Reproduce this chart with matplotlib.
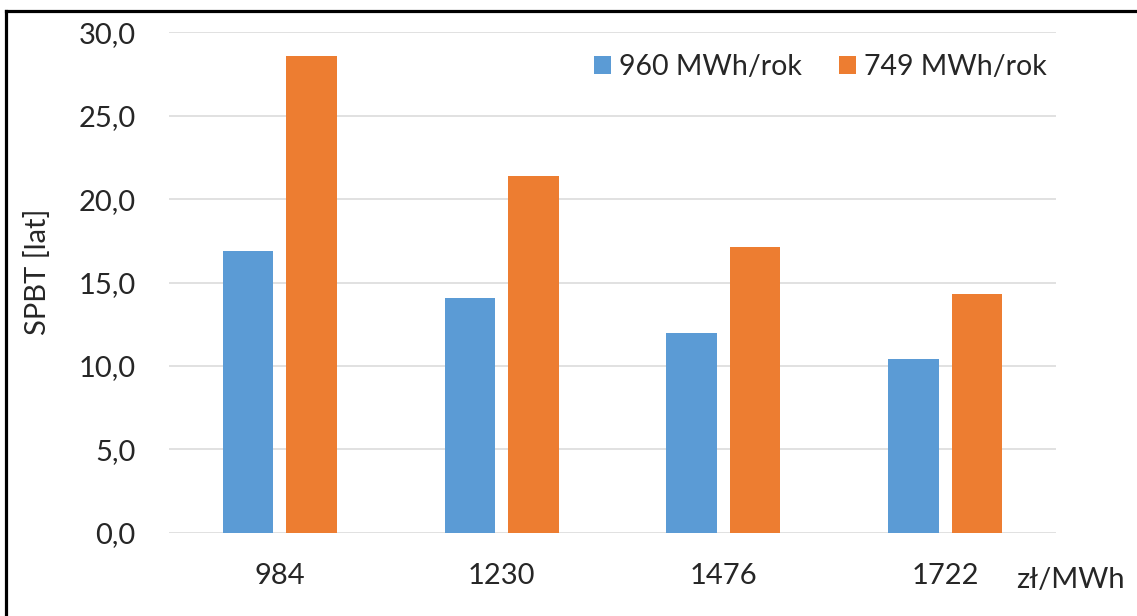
import matplotlib
matplotlib.use("Agg")
import matplotlib.pyplot as plt
from matplotlib.lines import Line2D
from matplotlib.ticker import FuncFormatter

# Energy price categories and simple payback time for two production levels
categories = ["984", "1230", "1476", "1722"]
series_names = ["960 MWh/rok", "749 MWh/rok"]
spbt_960 = [16.9, 14.1, 12.0, 10.4]
spbt_749 = [28.6, 21.4, 17.1, 14.3]
y_ticks = [0, 5, 10, 15, 20, 25, 30]

blue = "#5B9BD5"
orange = "#ED7D31"
grid_color = "#D9D9D9"
text_color = "#262626"

plt.rcParams["font.family"] = ["Lato", "DejaVu Sans"]

W, H = 1137, 616
fig = plt.figure(figsize=(W / 100, H / 100), dpi=100)
fig.patch.set_facecolor("white")

ax = fig.add_axes([169 / W, 1 - 532.7 / H, (1056 - 169) / W, (532.7 - 32.3) / H])

x = list(range(len(categories)))
offset = 0.143
width = 0.228
ax.bar([i - offset for i in x], spbt_960, width=width, color=blue, label=series_names[0], zorder=3)
ax.bar([i + offset for i in x], spbt_749, width=width, color=orange, label=series_names[1], zorder=3)

ax.set_xlim(-0.5, len(categories) - 0.5)
ax.set_ylim(0, 30)
ax.set_yticks(y_ticks)
ax.yaxis.set_major_formatter(FuncFormatter(lambda v, p: f"{v:.1f}".replace(".", ",")))
ax.set_xticks(x)
ax.set_xticklabels(categories)

for s in ax.spines.values():
    s.set_visible(False)
ax.grid(axis="y", color=grid_color, linewidth=1.1, zorder=0)
ax.set_axisbelow(True)
ax.tick_params(axis="both", length=0, labelsize=21, colors=text_color)
ax.tick_params(axis="y", pad=24)
ax.tick_params(axis="x", pad=22)

fig.text(37.5 / W, 1 - 272 / H, "SPBT [lat]", rotation=90, ha="center", va="center",
         fontsize=21, color=text_color)
fig.text(1016 / W, 1 - 588.5 / H, "zł/MWh", ha="left", va="baseline",
         fontsize=21, color=text_color)

ax.legend(loc="upper right", bbox_to_anchor=(1047 / W, 1 - 54 / H), bbox_transform=fig.transFigure,
          ncol=2, frameon=False, fontsize=20.5, handlelength=0.58, handleheight=0.58,
          handletextpad=0.3, columnspacing=1.3, borderaxespad=0, borderpad=0,
          labelcolor=text_color)

# Black frame along the top and left edges
fig.add_artist(Line2D([5.5 / W, 1.0], [1 - 10.5 / H, 1 - 10.5 / H], color="black",
                      linewidth=2.3, transform=fig.transFigure))
fig.add_artist(Line2D([5.5 / W, 5.5 / W], [0.0, 1 - 10.5 / H], color="black",
                      linewidth=2.3, transform=fig.transFigure))

fig.savefig("out.png", dpi=100, facecolor="white")
